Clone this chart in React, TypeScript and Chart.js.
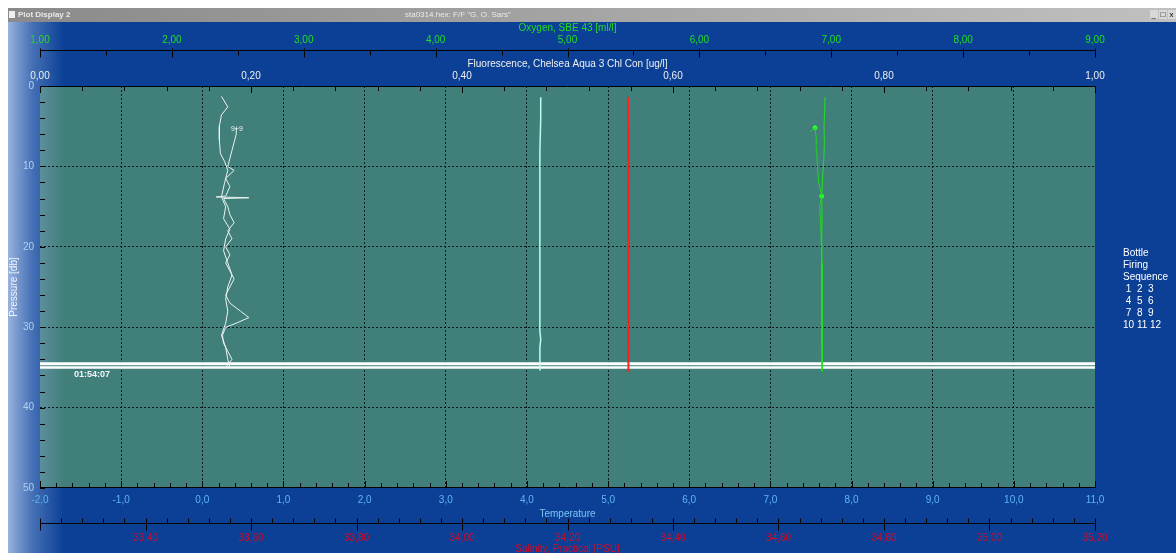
import React, { useEffect, useRef } from 'react';
import Chart from 'chart.js/auto';

// Pressure [db] is the vertical axis for every trace
const tempPress = [1.4, 4, 8, 12, 16, 20, 24, 28, 30.5, 31.5, 32.5, 35.4];
const tempVals = [4.17, 4.17, 4.16, 4.16, 4.16, 4.16, 4.16, 4.16, 4.16, 4.17, 4.16, 4.16];

const salDownPress = [1.4, 5, 10, 15, 20, 25, 30, 35.5];
const salDownVals = [34.315, 34.316, 34.315, 34.315, 34.315, 34.316, 34.315, 34.315];
const salUpPress = [35.5, 30, 25, 20, 15, 10, 5];
const salUpVals = [34.316, 34.316, 34.315, 34.316, 34.316, 34.316, 34.316];

const oxyDownPress = [1.4, 3, 5, 7, 9, 11, 13.7, 16, 19, 22, 25, 28, 31, 34, 35.5];
const oxyDownVals = [6.953, 6.95, 6.945, 6.948, 6.944, 6.936, 6.928, 6.93, 6.928, 6.93, 6.932, 6.93, 6.93, 6.932, 6.932];
const oxyUpPress = [35.5, 32, 28, 24, 20, 17, 15, 13.7, 12, 10, 8, 6.5, 5.2, 5.4, 5.7];
const oxyUpVals = [6.932, 6.928, 6.926, 6.926, 6.925, 6.92, 6.912, 6.928, 6.905, 6.895, 6.89, 6.886, 6.877, 6.86, 6.84];
const oxyBottlePress = [5.2, 13.7];
const oxyBottleVals = [6.877, 6.928];

const flDownPress = [1.3, 2.6, 3.6, 5, 6.7, 8.4, 9.4, 10.5, 12, 13.8, 15, 16.5, 17.8, 19, 20.5, 22, 23.5, 25, 26.5, 28, 29.5, 31, 32.5, 34, 35];
const flDownVals = [0.172, 0.178, 0.172, 0.17, 0.17, 0.171, 0.175, 0.178, 0.175, 0.172, 0.176, 0.174, 0.18, 0.176, 0.174, 0.178, 0.182, 0.178, 0.176, 0.178, 0.176, 0.172, 0.176, 0.178, 0.18];
const flUpPress = [35, 34, 33, 32, 31, 30, 29.5, 28.8, 28, 27, 26, 25, 24, 23, 22, 21, 20, 19, 18, 17, 16, 15, 14, 13.9, 13.8, 13.7, 12.5, 11.5, 10.5, 10, 9, 8, 7, 6, 5.2];
const flUpVals = [0.176, 0.182, 0.178, 0.174, 0.173, 0.176, 0.186, 0.198, 0.19, 0.18, 0.176, 0.18, 0.184, 0.18, 0.176, 0.18, 0.176, 0.182, 0.178, 0.184, 0.18, 0.178, 0.174, 0.198, 0.167, 0.176, 0.18, 0.176, 0.184, 0.178, 0.18, 0.182, 0.184, 0.186, 0.186];

// bottle firing band near the bottom of the cast
const bandTemps = [-2, 11];
const bandPressA = 34.55;
const bandPressB = 35.0;

const legendLines = ['Bottle', 'Firing', 'Sequence', ' 1  2  3', ' 4  5  6', ' 7  8  9', '10 11 12'];

const FONT = "'Liberation Sans', Arial, sans-serif";
const BLUE = '#0b4096';
const TEAL = '#417f7b';

const pts = (xs: number[], ps: number[]) => xs.map((v, i) => ({ x: v, y: ps[i] }));
const comma = (d: number) => (v: number | string) => Number(v).toFixed(d).replace('.', ',');

const backdrop = {
  id: 'backdrop',
  beforeDraw(chart: any) {
    const { ctx, width, height, chartArea } = chart;
    ctx.save();
    ctx.fillStyle = '#ffffff';
    ctx.fillRect(0, 0, width, height);
    // window title bar
    const tg = ctx.createLinearGradient(8, 0, width, 0);
    tg.addColorStop(0, '#8a8a8a');
    tg.addColorStop(1, '#c0c0c0');
    ctx.fillStyle = tg;
    ctx.fillRect(8, 8, width - 8, 14);
    ctx.fillStyle = '#f0f0f0';
    ctx.fillRect(9, 11, 6, 7);
    ctx.font = `bold 8px ${FONT}`;
    ctx.textBaseline = 'middle';
    ctx.fillStyle = '#eaeaea';
    ctx.fillText('Plot Display 2', 18, 15);
    ctx.font = `8px ${FONT}`;
    ctx.fillText('sta0314.hex: F/F "G. O. Sars"', 405, 15);
    ['_', '□', 'x'].forEach((s, i) => {
      const bx = 1150 + i * 9;
      ctx.fillStyle = '#d8d8d8';
      ctx.fillRect(bx, 10, 8, 9);
      ctx.fillStyle = '#000';
      ctx.fillText(s, bx + 1.5, 14.5);
    });
    // window body
    ctx.fillStyle = BLUE;
    ctx.fillRect(8, 22, width - 8, height - 22);
    ctx.fillStyle = TEAL;
    ctx.fillRect(chartArea.left, chartArea.top, chartArea.right - chartArea.left, chartArea.bottom - chartArea.top);
    const lg = ctx.createLinearGradient(8, 0, 64, 0);
    lg.addColorStop(0, 'rgba(170,192,230,0.9)');
    lg.addColorStop(0.45, 'rgba(150,180,225,0.4)');
    lg.addColorStop(1, 'rgba(150,180,225,0)');
    ctx.fillStyle = lg;
    ctx.fillRect(8, 22, 56, height - 22);
    ctx.restore();
  },
};

const axisMarks = {
  id: 'axisMarks',
  afterDraw(chart: any) {
    const { ctx, chartArea, scales } = chart;
    const { left, right, top, bottom } = chartArea;
    const line = (x1: number, y1: number, x2: number, y2: number) => {
      ctx.beginPath();
      ctx.moveTo(x1, y1);
      ctx.lineTo(x2, y2);
      ctx.stroke();
    };
    ctx.save();
    ctx.strokeStyle = '#000';
    ctx.lineWidth = 1;
    // plot frame top and bottom
    line(left, top + 0.5, right, top + 0.5);
    line(left, bottom - 0.5, right, bottom - 0.5);
    // pressure minor ticks
    for (let v = 0; v <= 50; v += 2) {
      const y = Math.round(scales.y.getPixelForValue(v)) + 0.5;
      line(left, y, left + 5, y);
    }
    // temperature ticks
    for (let i = 0; i <= 65; i++) {
      const x = Math.round(scales.x.getPixelForValue(-2 + i * 0.2)) + 0.5;
      line(x, bottom, x, bottom - (i % 5 === 0 ? 7 : 5));
    }
    // fluorescence ticks
    for (let i = 0; i <= 25; i++) {
      const x = Math.round(scales.fl.getPixelForValue(i * 0.04)) + 0.5;
      line(x, top, x, top + (i % 5 === 0 ? 7 : 5));
    }
    // oxygen axis
    const oy = scales.oxy.bottom - 8 + 0.5;
    line(scales.oxy.left, oy, scales.oxy.right, oy);
    for (let i = 0; i <= 16; i++) {
      const x = Math.round(scales.oxy.getPixelForValue(1 + i * 0.5)) + 0.5;
      line(x, oy - (i % 2 === 0 ? 2 : 0), x, oy + (i % 2 === 0 ? 7 : 5));
    }
    // salinity axis
    const sy = scales.sal.top + 3 + 0.5;
    line(scales.sal.left, sy, scales.sal.right, sy);
    for (let i = 0; i <= 50; i++) {
      const x = Math.round(scales.sal.getPixelForValue(33.2 + i * 0.04)) + 0.5;
      line(x, sy - 5, x, sy + (i % 5 === 0 ? 7 : 0));
    }
    // labels inside plot
    ctx.fillStyle = '#f4f4f4';
    ctx.font = `bold 9px ${FONT}`;
    ctx.textBaseline = 'middle';
    ctx.fillText('01:54:07', scales.x.getPixelForValue(-1.58), scales.y.getPixelForValue(35.9));
    ctx.font = `7px ${FONT}`;
    ctx.fillText('9+9', scales.fl.getPixelForValue(0.181), scales.y.getPixelForValue(5.3));
    // bottle firing legend
    ctx.font = `10px ${FONT}`;
    ctx.fillStyle = '#ffffff';
    legendLines.forEach((t, i) => ctx.fillText(t, 1123, 253 + i * 12));
    ctx.restore();
  },
};

const App: React.FC = () => {
  const chartRef = useRef<HTMLCanvasElement>(null);
  const chartInstance = useRef<Chart | null>(null);

  useEffect(() => {
    document.body.style.margin = '0';
    if (!chartRef.current) return;
    if (chartInstance.current) chartInstance.current.destroy();
    const ctx = chartRef.current.getContext('2d');
    if (!ctx) return;

    const line = (data: any[], xAxisID: string, color: string, width = 1) => ({
      data,
      xAxisID,
      yAxisID: 'y',
      showLine: true,
      borderColor: color,
      backgroundColor: color,
      borderWidth: width,
      pointRadius: 0,
      fill: false,
      tension: 0,
    });

    const axisFont = { family: FONT, size: 10 };

    chartInstance.current = new Chart(ctx, {
      type: 'scatter',
      data: {
        datasets: [
          line(pts(flDownVals, flDownPress), 'fl', '#f2f2f2'),
          line(pts(flUpVals, flUpPress), 'fl', '#e8f4f0'),
          line(pts(tempVals, tempPress), 'x', '#b8fff0', 1.5),
          line(pts(salDownVals, salDownPress), 'sal', '#ff2020', 1),
          line(pts(salUpVals, salUpPress), 'sal', '#ff1010', 1.5),
          line(pts(oxyDownVals, oxyDownPress), 'oxy', '#22e022'),
          line(pts(oxyUpVals, oxyUpPress), 'oxy', '#1ed81e'),
          { ...line(pts(oxyBottleVals, oxyBottlePress), 'oxy', '#30ff30'), showLine: false, pointRadius: 2 },
          line(pts(bandTemps, [bandPressA, bandPressA]), 'x', '#ffffff', 3),
          line(pts(bandTemps, [bandPressB, bandPressB]), 'x', '#ffffff', 2.5),
        ],
      },
      options: {
        responsive: false,
        animation: false,
        events: [],
        layout: { padding: { top: 22, right: 81, left: 0, bottom: 0 } },
        plugins: { legend: { display: false }, tooltip: { enabled: false } },
        scales: {
          y: {
            type: 'linear',
            position: 'left',
            reverse: true,
            min: 0,
            max: 50,
            ticks: { stepSize: 10, color: '#b4d0f0', padding: 6, font: axisFont },
            grid: {
              drawTicks: false,
              color: (c: any) => (c.tick && (c.tick.value === 0 || c.tick.value === 50) ? 'rgba(0,0,0,0)' : '#0a1a1a'),
            },
            border: { display: false, dash: [2, 2] },
            title: { display: true, text: 'Pressure [db]', color: '#f2f6ff', font: axisFont, padding: { top: 8, bottom: 0 } },
            afterFit: (s: any) => { s.width = 40; },
          },
          x: {
            type: 'linear',
            position: 'bottom',
            weight: 0,
            min: -2,
            max: 11,
            ticks: { stepSize: 1, color: '#5cb6f4', padding: 6, maxRotation: 0, font: axisFont, callback: comma(1) },
            grid: {
              drawTicks: false,
              color: (c: any) => (c.tick && (c.tick.value === -2 || c.tick.value === 11) ? 'rgba(0,0,0,0)' : '#0a1a1a'),
            },
            border: { display: false, dash: [2, 2] },
            title: { display: true, text: 'Temperature', color: '#7cc4f4', font: axisFont, padding: { top: 0, bottom: 0 } },
            afterFit: (s: any) => { s.height = 32; },
          },
          sal: {
            type: 'linear',
            position: 'bottom',
            weight: 1,
            min: 33.2,
            max: 35.2,
            ticks: {
              stepSize: 0.2,
              color: '#d00c28',
              padding: 12,
              maxRotation: 0,
              autoSkip: false,
              font: axisFont,
              callback: (v: any) => (Math.abs(Number(v) - 33.2) < 1e-6 ? '' : comma(2)(v)),
            },
            grid: { display: false, drawTicks: false },
            border: { display: false },
            title: { display: true, text: 'Salinity, Practical [PSU]', color: '#d00c28', font: axisFont, padding: { top: 0, bottom: -2 } },
            afterFit: (s: any) => { s.height = 33; },
          },
          fl: {
            type: 'linear',
            position: 'top',
            weight: 0,
            min: 0,
            max: 1,
            ticks: { stepSize: 0.2, color: '#f0f0f0', padding: 4, maxRotation: 0, font: axisFont, callback: comma(2) },
            grid: { display: false, drawTicks: false },
            border: { display: false },
            title: { display: true, text: 'Fluorescence, Chelsea Aqua 3 Chl Con [ug/l]', color: '#f0f0f0', font: axisFont, padding: { top: 0, bottom: 0 } },
            afterFit: (s: any) => { s.height = 28; },
          },
          oxy: {
            type: 'linear',
            position: 'top',
            weight: 1,
            min: 1,
            max: 9,
            ticks: { stepSize: 1, color: '#22dd22', padding: 12, maxRotation: 0, font: axisFont, callback: comma(2) },
            grid: { display: false, drawTicks: false },
            border: { display: false },
            title: { display: true, text: 'Oxygen, SBE 43 [ml/l]', color: '#22dd22', font: axisFont, padding: { top: 0, bottom: 0 } },
            afterFit: (s: any) => { s.height = 36; },
          },
        },
      },
      plugins: [backdrop, axisMarks],
    } as any);

    return () => {
      if (chartInstance.current) {
        chartInstance.current.destroy();
        chartInstance.current = null;
      }
    };
  }, []);

  return (
    <div style={{ position: 'fixed', left: 0, top: 0, width: 1176, height: 553 }}>
      <canvas ref={chartRef} width={1176} height={553} style={{ display: 'block' }} />
    </div>
  );
};

export default App;
